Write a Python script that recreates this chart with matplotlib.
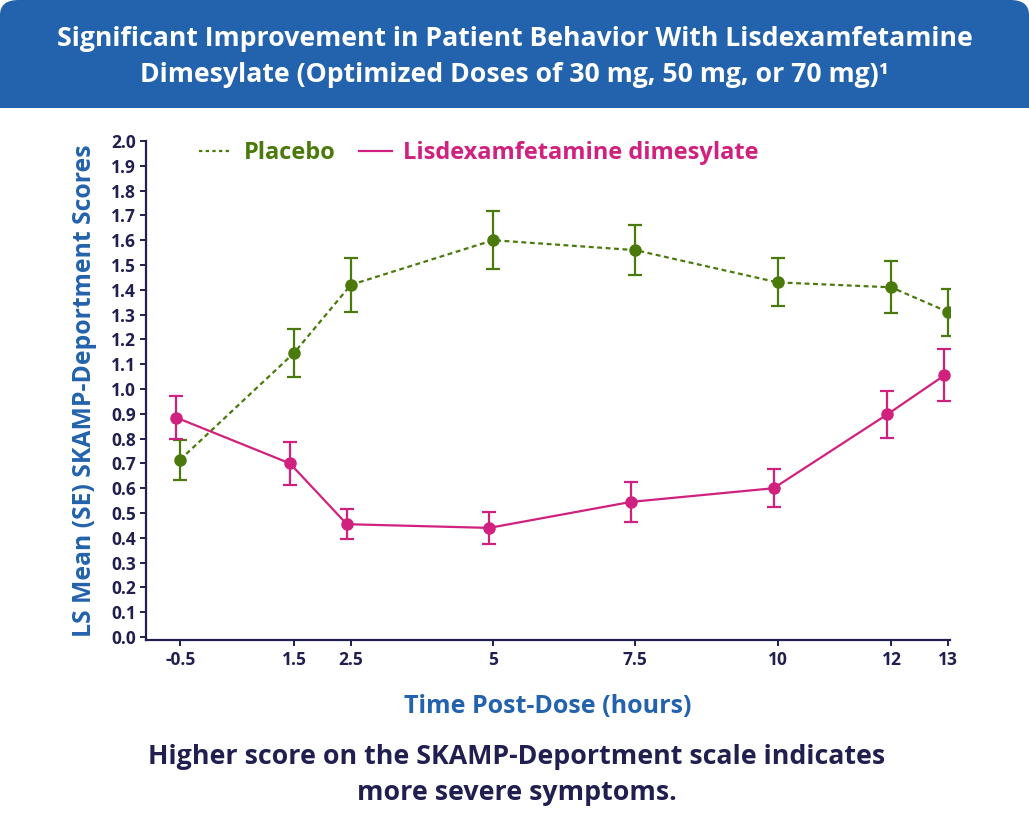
import matplotlib
matplotlib.use('Agg')
import matplotlib.pyplot as plt
from matplotlib.patches import FancyBboxPatch, Rectangle
from matplotlib.lines import Line2D

# data
hours = [-0.5, 1.5, 2.5, 5, 7.5, 10, 12, 13]
placebo = [0.715, 1.145, 1.42, 1.60, 1.56, 1.43, 1.41, 1.31]
placebo_se = [0.08, 0.095, 0.11, 0.117, 0.102, 0.097, 0.105, 0.095]
lisdex = [0.885, 0.70, 0.455, 0.44, 0.545, 0.60, 0.898, 1.055]
lisdex_se = [0.086, 0.087, 0.06, 0.065, 0.08, 0.076, 0.095, 0.105]
x_ticks = [-0.5, 1.5, 2.5, 5, 7.5, 10, 12, 13]
x_labels = ['-0.5', '1.5', '2.5', '5', '7.5', '10', '12', '13']
y_ticks = [i / 10 for i in range(21)]

title = ('Significant Improvement in Patient Behavior With Lisdexamfetamine\n'
         'Dimesylate (Optimized Doses of 30 mg, 50 mg, or 70 mg)\u00b9')
note = 'Higher score on the SKAMP-Deportment scale indicates\nmore severe symptoms.'

GREEN = '#4b7a0c'
PINK = '#d1217f'
NAVY = '#211f4f'
BLUE = '#2363ad'
FONT = 'Open Sans'
lis_shift = -0.07  # lisdex points sit slightly left of the tick

W, H = 1029, 832
fig = plt.figure(figsize=(W / 100, H / 100), dpi=100)
fig.patch.set_facecolor('white')

# header band with rounded top corners
band_bottom = 1 - 108 / H
fig.patches.append(FancyBboxPatch((0, band_bottom - 0.05), 1, 1.05 - band_bottom,
                                  boxstyle='round,pad=0,rounding_size=0.018',
                                  transform=fig.transFigure, facecolor=BLUE,
                                  edgecolor='none', zorder=0))
fig.patches.append(Rectangle((0, 0), 1, band_bottom, transform=fig.transFigure,
                             facecolor='white', edgecolor='none', zorder=1))
fig.text(0.5, 1 - 57 / H, title, ha='center', va='center', color='white',
         fontsize=19.2, fontweight='bold', family=FONT, linespacing=1.47)

ax = fig.add_axes([146 / W, 1 - 640 / H, (950 - 146) / W, (640 - 141) / H])
ax.set_zorder(2)
ax.patch.set_alpha(0)

ax.errorbar(hours, placebo, yerr=placebo_se, color=GREEN, ls=(0, (2.2, 1.6)),
            lw=1.6, marker='o', ms=8, capsize=5, capthick=1.6, elinewidth=1.6,
            label='Placebo')
ax.errorbar([h + lis_shift for h in hours], lisdex, yerr=lisdex_se, color=PINK,
            ls='-', lw=1.6, marker='o', ms=8, capsize=5, capthick=1.6,
            elinewidth=1.6, label='Lisdexamfetamine dimesylate')

ax.set_xlim(-1.1, 13.03)
ax.set_ylim(-0.012, 2.0)
ax.set_xticks(x_ticks)
ax.set_xticklabels(x_labels)
ax.set_yticks(y_ticks)
ax.set_yticklabels([f'{v:.1f}' for v in y_ticks])
for s in ['top', 'right']:
    ax.spines[s].set_visible(False)
for s in ['left', 'bottom']:
    ax.spines[s].set_color(NAVY)
    ax.spines[s].set_linewidth(1.6)
ax.tick_params(colors=NAVY, width=1.4, length=4, labelsize=12.5)
ax.tick_params(axis='x', pad=4)
ax.tick_params(axis='y', pad=3)
for lab in ax.get_xticklabels() + ax.get_yticklabels():
    lab.set_fontweight('bold')
    lab.set_family(FONT)

ax.set_ylabel('LS Mean (SE) SKAMP-Deportment Scores', color=BLUE, fontsize=17.8,
              fontweight='bold', family=FONT, labelpad=10)
ax.set_xlabel('Time Post-Dose (hours)', color=BLUE, fontsize=18,
              fontweight='bold', family=FONT, labelpad=18)

handles = [Line2D([], [], color=GREEN, ls=(0, (1.5, 1.5)), lw=1.6),
           Line2D([], [], color=PINK, ls='-', lw=1.6)]
leg = ax.legend(handles, ['Placebo', 'Lisdexamfetamine dimesylate'], loc='upper left',
                bbox_to_anchor=(0.04, 1.042), ncol=2, frameon=False,
                handlelength=1.4, handletextpad=0.47, columnspacing=1.0,
                prop={'family': FONT, 'weight': 'bold', 'size': 17})
for txt, c in zip(leg.get_texts(), [GREEN, PINK]):
    txt.set_color(c)

fig.text(517 / W, 1 - 775 / H, note, ha='center', va='center', color=NAVY,
         fontsize=19.3, fontweight='bold', family=FONT, linespacing=1.55)

fig.savefig('out.png', dpi=100, facecolor='white')
